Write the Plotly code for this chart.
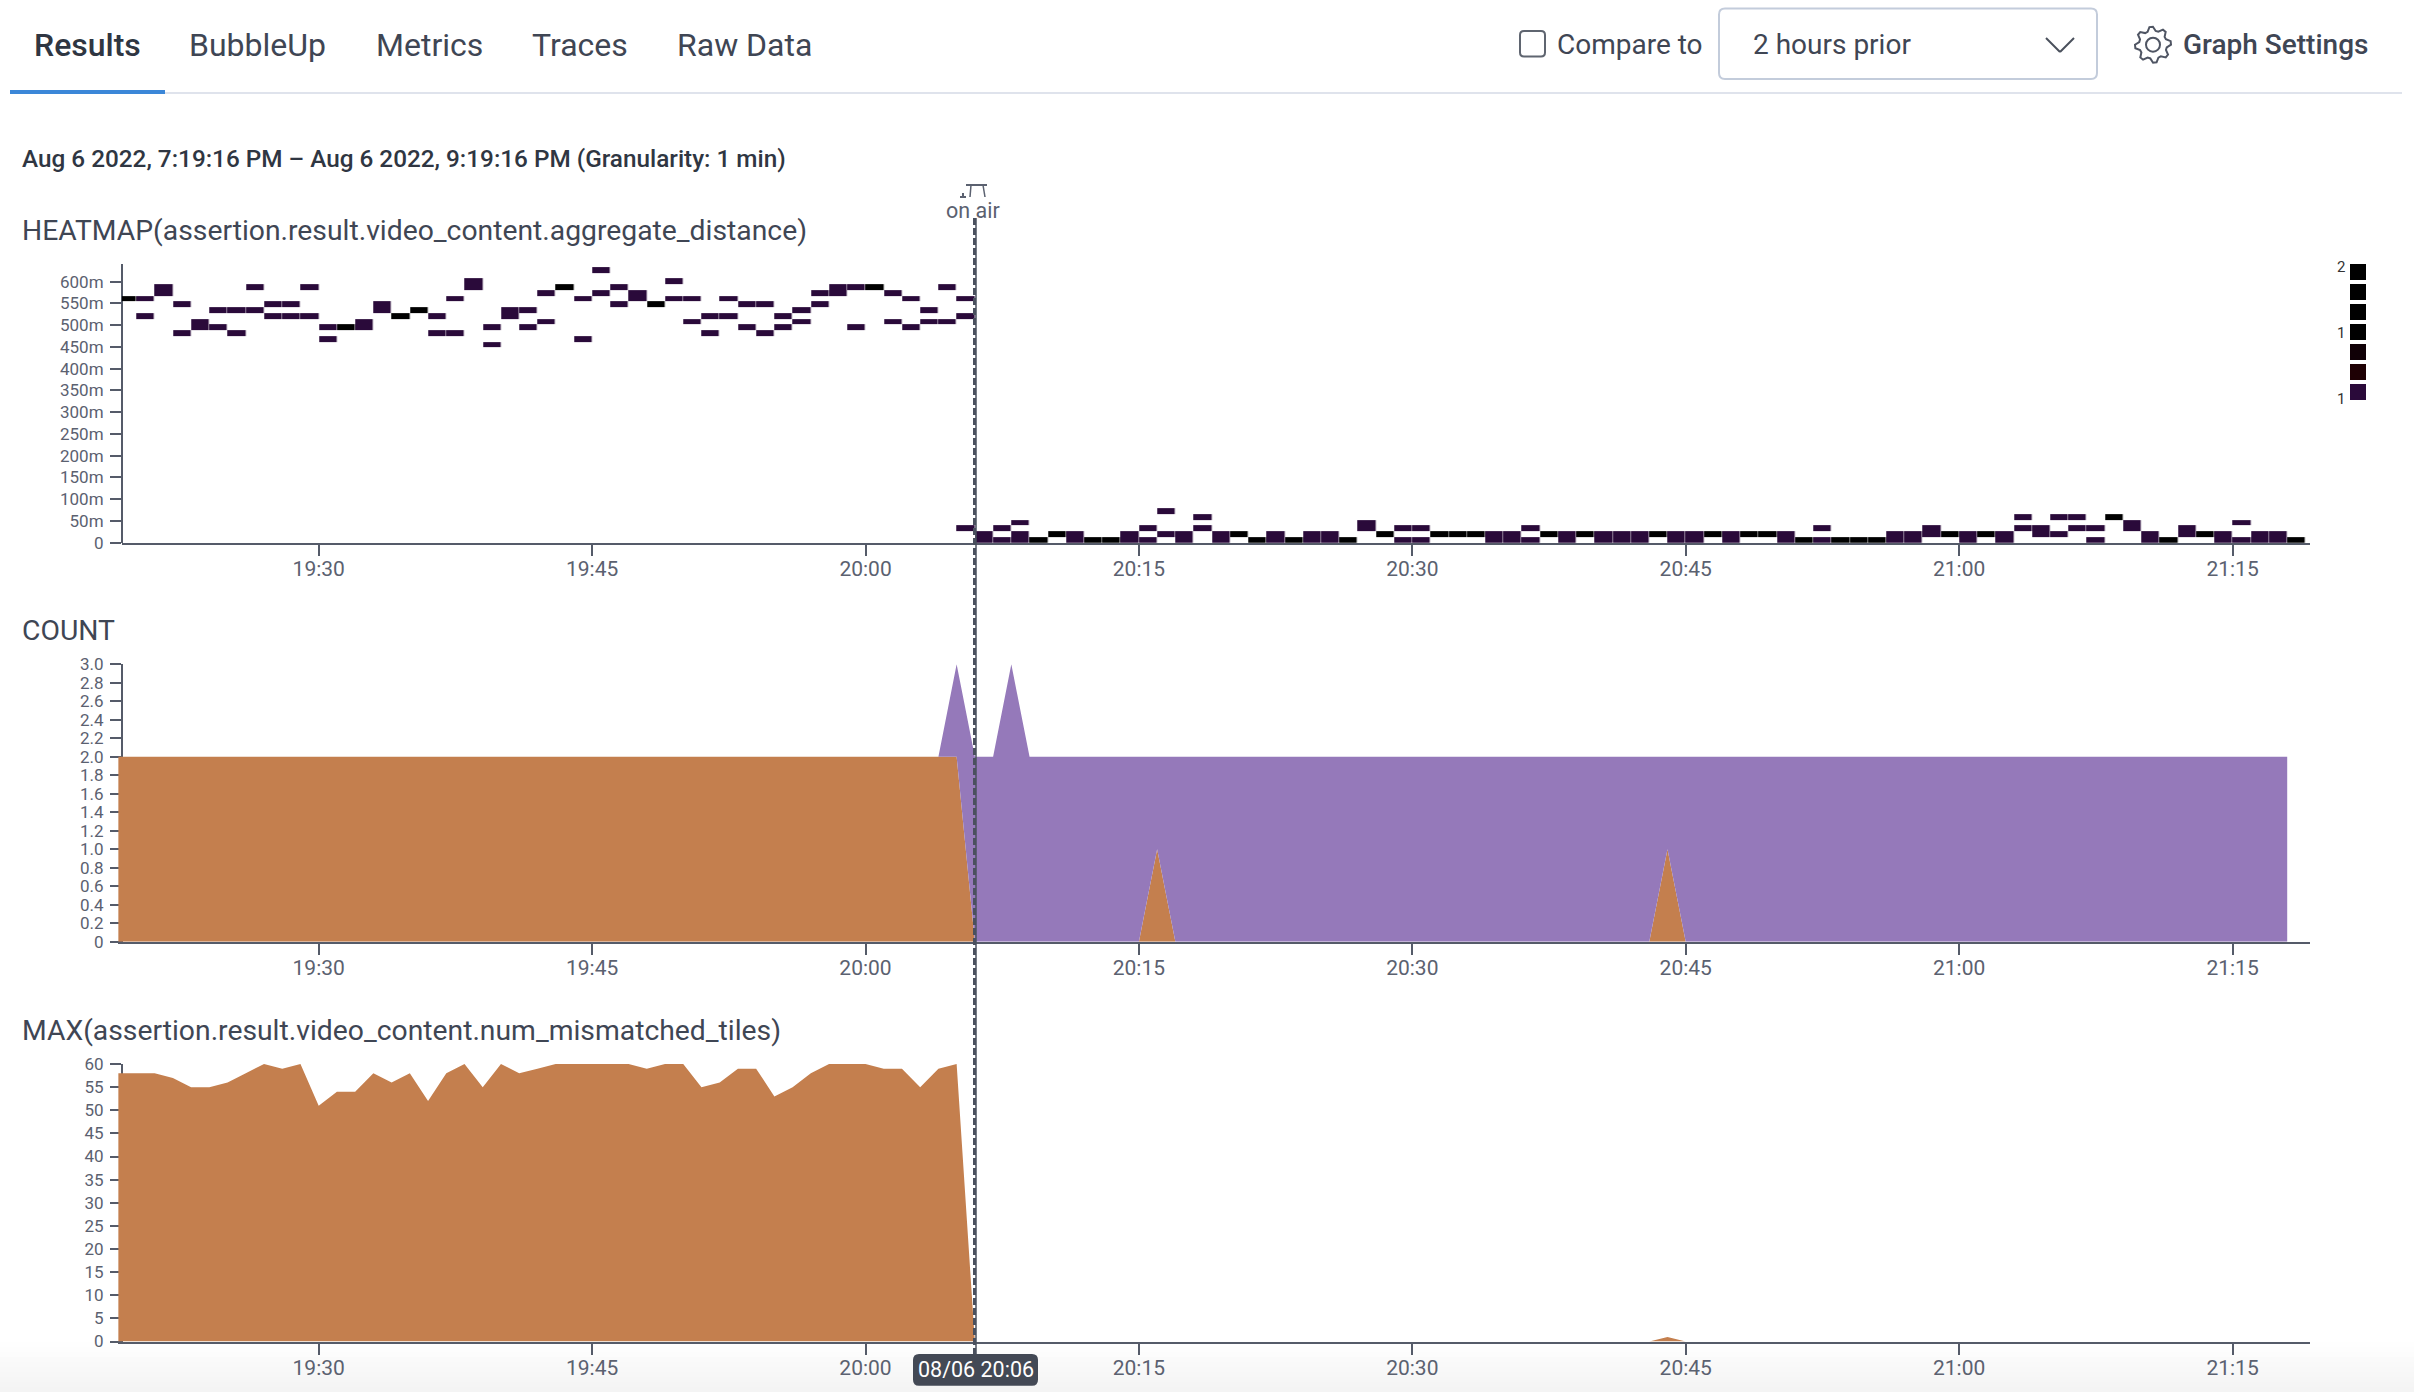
"""Honeycomb-style results page: heatmap, stacked count and max panels sharing one time axis."""
import math

import pandas as pd
import plotly.graph_objects as go

W, H = 2414, 1392
FONT = "Roboto"
INK = "#3f4654"
AXIS = "#555b69"
TICK_TEXT = "#5b6170"
ORANGE = "#c47f4e"
PURPLE = "#9579ba"
CELL_ONE = "#2a0a3a"
CELL_TWO = "#000000"

# one point per minute, 19:19 to 21:18
MINUTES = pd.date_range("2022-08-06 19:19", periods=120, freq="min")
CELL_EDGES = pd.date_range("2022-08-06 19:19", periods=121, freq="min")
TIME_TICKS = ["2022-08-06 19:30", "2022-08-06 19:45", "2022-08-06 20:00",
              "2022-08-06 20:15", "2022-08-06 20:30", "2022-08-06 20:45",
              "2022-08-06 21:00", "2022-08-06 21:15"]
TIME_LABELS = ["19:30", "19:45", "20:00", "20:15", "20:30", "20:45", "21:00", "21:15"]

# filled heatmap buckets per minute; a lone bucket holds both events (darkest colour)
BUCKET_SIZE = 13.2
HEAT_BUCKETS = [
    [42], [42, 39], [44, 43], [41, 36], [38, 37], [40, 37], [40, 36], [44, 40], [41, 39], [41, 39],
    [44, 39], [37, 35], [37], [38, 37], [41, 40], [39], [40], [39, 36], [42, 36], [45, 44],
    [37, 34], [40, 39], [40, 37], [43, 38], [44], [42, 35], [47, 43], [44, 41], [43, 42], [41],
    [45, 42], [42, 38], [39, 36], [42, 39], [41, 37], [41, 36], [39, 37], [40, 38], [43, 41], [44, 43],
    [44, 37], [44], [43, 38], [42, 37], [40, 38], [44, 38], [42, 39, 2], [1, 0], [2, 0], [3, 1, 0],
    [0], [1], [1, 0], [0], [0], [1, 0], [2, 0], [5, 1], [1, 0], [4, 2],
    [1, 0], [1], [0], [1, 0], [0], [1, 0], [1, 0], [0], [3, 2], [1],
    [2, 0], [2, 0], [1], [1], [1], [1, 0], [1, 0], [2, 0], [1], [1, 0],
    [1], [1, 0], [1, 0], [1, 0], [1], [1, 0], [1, 0], [1], [1, 0], [1],
    [1], [1, 0], [0], [2, 0], [0], [0], [0], [1, 0], [1, 0], [2, 1],
    [1], [1, 0], [1], [1, 0], [4, 2], [2, 1], [4, 1], [4, 2], [2, 0], [4],
    [3, 2], [1, 0], [0], [2, 1], [1], [1, 0], [3, 0], [1, 0], [1, 0], [0],
]
HEAT_TICKS = [0, 50, 100, 150, 200, 250, 300, 350, 400, 450, 500, 550, 600]
HEAT_LABELS = ["0", "50m", "100m", "150m", "200m", "250m", "300m", "350m", "400m",
               "450m", "500m", "550m", "600m"]

COUNT_ORANGE = [
    2, 2, 2, 2, 2, 2, 2, 2, 2, 2, 2, 2, 2, 2, 2, 2, 2, 2, 2, 2,
    2, 2, 2, 2, 2, 2, 2, 2, 2, 2, 2, 2, 2, 2, 2, 2, 2, 2, 2, 2,
    2, 2, 2, 2, 2, 2, 2, 0, 0, 0, 0, 0, 0, 0, 0, 0, 0, 1, 0, 0,
    0, 0, 0, 0, 0, 0, 0, 0, 0, 0, 0, 0, 0, 0, 0, 0, 0, 0, 0, 0,
    0, 0, 0, 0, 0, 1, 0, 0, 0, 0, 0, 0, 0, 0, 0, 0, 0, 0, 0, 0,
    0, 0, 0, 0, 0, 0, 0, 0, 0, 0, 0, 0, 0, 0, 0, 0, 0, 0, 0, 0,
]
COUNT_PURPLE = [
    0, 0, 0, 0, 0, 0, 0, 0, 0, 0, 0, 0, 0, 0, 0, 0, 0, 0, 0, 0,
    0, 0, 0, 0, 0, 0, 0, 0, 0, 0, 0, 0, 0, 0, 0, 0, 0, 0, 0, 0,
    0, 0, 0, 0, 0, 0, 1, 2, 2, 3, 2, 2, 2, 2, 2, 2, 2, 1, 2, 2,
    2, 2, 2, 2, 2, 2, 2, 2, 2, 2, 2, 2, 2, 2, 2, 2, 2, 2, 2, 2,
    2, 2, 2, 2, 2, 1, 2, 2, 2, 2, 2, 2, 2, 2, 2, 2, 2, 2, 2, 2,
    2, 2, 2, 2, 2, 2, 2, 2, 2, 2, 2, 2, 2, 2, 2, 2, 2, 2, 2, 2,
]
COUNT_TICKS = [0, 0.2, 0.4, 0.6, 0.8, 1.0, 1.2, 1.4, 1.6, 1.8, 2.0, 2.2, 2.4, 2.6, 2.8, 3.0]
COUNT_LABELS = ["0", "0.2", "0.4", "0.6", "0.8", "1.0", "1.2", "1.4", "1.6", "1.8",
                "2.0", "2.2", "2.4", "2.6", "2.8", "3.0"]

MAX_TILES = [
    58, 58, 58, 57, 55, 55, 56, 58, 60, 59, 60, 51, 54, 54, 58, 56, 58, 52, 58, 60,
    55, 60, 58, 59, 60, 60, 60, 60, 60, 59, 60, 60, 55, 56, 59, 59, 53, 55, 58, 60,
    60, 60, 59, 59, 55, 59, 60, 0, 0, 0, 0, 0, 0, 0, 0, 0, 0, 0, 0, 0,
    0, 0, 0, 0, 0, 0, 0, 0, 0, 0, 0, 0, 0, 0, 0, 0, 0, 0, 0, 0,
    0, 0, 0, 0, 0, 1, 0, 0, 0, 0, 0, 0, 0, 0, 0, 0, 0, 0, 0, 0,
    0, 0, 0, 0, 0, 0, 0, 0, 0, 0, 0, 0, 0, 0, 0, 0, 0, 0, 0, 0,
]
MAX_TICKS = [0, 5, 10, 15, 20, 25, 30, 35, 40, 45, 50, 55, 60]

LEGEND_COLOURS = ["#000000", "#000000", "#000000", "#000000", "#100006", "#1e0004", "#2a0a3a"]


def px(x):
    return x / W


def py(y):
    return 1 - y / H


def rect(x0, y0, x1, y1, **kw):
    return dict(type="rect", xref="paper", yref="paper", x0=px(x0), x1=px(x1), y0=py(y0), y1=py(y1), **kw)


def seg(x0, y0, x1, y1, color, width=2, dash="solid"):
    return dict(type="line", xref="paper", yref="paper", x0=px(x0), x1=px(x1), y0=py(y0), y1=py(y1),
                line=dict(color=color, width=width, dash=dash))


def rounded(x0, y0, x1, y1, r, **kw):
    xa, xb, ya, yb = px(x0), px(x1), py(y0), py(y1)
    rx, ry = r / W, r / H
    path = (f"M {xa + rx} {ya} L {xb - rx} {ya} Q {xb} {ya} {xb} {ya - ry} L {xb} {yb + ry} "
            f"Q {xb} {yb} {xb - rx} {yb} L {xa + rx} {yb} Q {xa} {yb} {xa} {yb + ry} "
            f"L {xa} {ya - ry} Q {xa} {ya} {xa + rx} {ya} Z")
    return dict(type="path", xref="paper", yref="paper", path=path, **kw)


def gear(cx, cy, outer, inner, teeth=8):
    pts = []
    for i in range(teeth * 4):
        a = 2 * math.pi * i / (teeth * 4) - 0.2
        r = outer if i % 4 in (0, 1) else inner
        pts.append(f"{px(cx + r * math.cos(a))} {py(cy + r * math.sin(a))}")
    return "M " + " L ".join(pts) + " Z"


def label(x, y, text, size=21, color=INK, anchor="left", weight=400):
    fig.add_annotation(xref="paper", yref="paper", x=px(x), y=py(y), text=text, showarrow=False,
                       xanchor=anchor, yanchor="middle", borderpad=0,
                       font=dict(family=FONT, size=size, color=color, weight=weight))


def axis_pair(n, x_start, left, top, bottom, y_range, y_ticks, y_labels):
    x_key = "xaxis" if n == 1 else f"xaxis{n}"
    y_key = "yaxis" if n == 1 else f"yaxis{n}"
    suffix = "" if n == 1 else str(n)
    fig.update_layout({
        x_key: dict(type="date", domain=[px(left), px(2310.3)], range=[x_start, "2022-08-06 21:19:16"],
                    anchor="y" + suffix, tickmode="array", tickvals=TIME_TICKS, ticktext=TIME_LABELS,
                    showgrid=False, zeroline=False, showline=True, linecolor=AXIS, linewidth=2,
                    ticks="outside", ticklen=11, tickwidth=2, tickcolor=AXIS, automargin=False,
                    ticklabelstandoff=-5, tickfont=dict(family=FONT, size=21, color=TICK_TEXT)),
        y_key: dict(domain=[py(bottom), py(top)], range=y_range, anchor="free",
                    position=px(122), tickmode="array", tickvals=y_ticks, ticktext=y_labels,
                    showgrid=False, zeroline=False, showline=True, linecolor=AXIS, linewidth=2,
                    ticks="outside", ticklen=11, tickwidth=2, tickcolor=AXIS, layer="below traces",
                    automargin=False, ticklabelstandoff=3,
                    tickfont=dict(family=FONT, size=17, color=TICK_TEXT)),
    })


fig = go.Figure()

# heatmap panel
n_rows = max(max(col) for col in HEAT_BUCKETS) + 1
bucket_edges = [i * BUCKET_SIZE for i in range(n_rows + 1)]
z = [[None] * len(MINUTES) for _ in range(n_rows)]
for i, col in enumerate(HEAT_BUCKETS):
    for row in col:
        z[row][i] = 2 if len(col) == 1 else 1
fig.add_trace(go.Heatmap(x=CELL_EDGES, y=bucket_edges, z=z, zmin=1, zmax=2, showscale=False,
                         colorscale=[[0, CELL_ONE], [1, CELL_TWO]], xgap=0.5, ygap=0, hoverinfo="skip",
                         xaxis="x", yaxis="y"))

# count panel, stacked
fig.add_trace(go.Scatter(x=MINUTES, y=COUNT_ORANGE, stackgroup="count", mode="lines", fillcolor=ORANGE,
                         line=dict(width=0, color=ORANGE), hoverinfo="skip", xaxis="x2", yaxis="y2"))
fig.add_trace(go.Scatter(x=MINUTES, y=COUNT_PURPLE, stackgroup="count", mode="lines", fillcolor=PURPLE,
                         line=dict(width=0, color=PURPLE), hoverinfo="skip", xaxis="x2", yaxis="y2"))

# max panel
fig.add_trace(go.Scatter(x=MINUTES, y=MAX_TILES, fill="tozeroy", mode="lines", fillcolor=ORANGE,
                         line=dict(width=0, color=ORANGE), hoverinfo="skip", xaxis="x3", yaxis="y3"))

axis_pair(1, "2022-08-06 19:19:12", 121.9, 264, 542.7, [0, 640.7], HEAT_TICKS, HEAT_LABELS)
axis_pair(2, "2022-08-06 19:19:00", 118.2, 664.3, 941.7, [0, 3], COUNT_TICKS, COUNT_LABELS)
axis_pair(3, "2022-08-06 19:19:00", 118.2, 1064, 1341.5, [0, 60], MAX_TICKS, [str(v) for v in MAX_TICKS])

shapes = []

# page fade at the bottom
for i in range(10):
    shapes.append(rect(0, 1342 + i * 5, W, 1347 + i * 5, fillcolor=f"rgba(0,0,0,{0.0045 * (i + 1):.4f})",
                       line_width=0, layer="below"))

# tab bar
shapes.append(rect(165, 92, 2402, 94, fillcolor="#dfe3ec", line_width=0))
shapes.append(rect(10, 90, 165, 94, fillcolor="#3b87d8", line_width=0))
shapes.append(rounded(1520, 31, 1545, 56.5, 4, fillcolor="white", line=dict(color="#5f6570", width=2)))
shapes.append(rounded(1719, 8.5, 2097, 79, 6, fillcolor="white", line=dict(color="#c3ccdb", width=2)))
shapes.append(seg(2046, 38, 2060, 52, "#4a505c", 2))
shapes.append(seg(2060, 52, 2074, 38, "#4a505c", 2))
shapes.append(dict(type="path", xref="paper", yref="paper", path=gear(2153, 44.7, 18, 14),
                   line=dict(color="#4f5563", width=2)))
shapes.append(dict(type="circle", xref="paper", yref="paper", x0=px(2146), x1=px(2160), y0=py(51.7), y1=py(37.7),
                   line=dict(color="#4f5563", width=2)))

# on air marker
shapes.append(seg(974.5, 218, 974.5, 1354, "#4a505e", 3, "7px,3px"))
shapes.append(seg(976, 218, 976, 1354, "#4a505e", 1.5))
shapes.append(seg(966, 185, 987, 185, TICK_TEXT, 2))
shapes.append(seg(971, 185, 970, 197, TICK_TEXT, 1.5))
shapes.append(seg(983, 185, 985, 197, TICK_TEXT, 1.5))
shapes.append(seg(960, 197, 966, 197, TICK_TEXT, 2))
shapes.append(seg(963, 193, 963, 197, TICK_TEXT, 2))

# crosshair time tag
shapes.append(rounded(913, 1354, 1038, 1385.7, 6, fillcolor="#434955", line_width=0))

# heatmap colour legend
for i, colour in enumerate(LEGEND_COLOURS):
    shapes.append(rect(2350, 264 + i * 20, 2366, 280 + i * 20, fillcolor=colour, line_width=0))

fig.update_layout(shapes=shapes)

label(33, 45, "Results", size=32, color="#2f3642", weight=500)
label(187.5, 45, "BubbleUp", size=32)
label(374.5, 45, "Metrics", size=32)
label(530.5, 45, "Traces", size=32)
label(675.5, 45, "Raw Data", size=32)
label(1556, 44, "Compare to", size=28)
label(1752, 44, "2 hours prior", size=28)
label(2182, 44, "Graph Settings", size=28, weight=500)
label(21, 158, "Aug 6 2022, 7:19:16 PM – Aug 6 2022, 9:19:16 PM (Granularity: 1 min)", size=24.3, color="#2f3642", weight=500)
label(21, 231, "HEATMAP(assertion.result.video_content.aggregate_distance)", size=28.3)
label(21, 630, "COUNT", size=28.3)
label(21, 1030, "MAX(assertion.result.video_content.num_mismatched_tiles)", size=28.3)
label(973.5, 210.5, "on air", size=21.5, color=TICK_TEXT, anchor="center")
label(975.5, 1369, "08/06 20:06", size=21.5, color="white", anchor="center")
label(2341, 266.7, "2", size=15, color="#333333", anchor="center")
label(2341, 332.7, "1", size=15, color="#333333", anchor="center")
label(2341, 398.7, "1", size=15, color="#333333", anchor="center")

fig.update_layout(width=W, height=H, margin=dict(l=0, r=0, t=0, b=0, autoexpand=False), showlegend=False,
                  paper_bgcolor="white", plot_bgcolor="rgba(0,0,0,0)", hovermode=False,
                  font=dict(family=FONT))

fig.write_html("out.html", config=dict(displayModeBar=False), post_script="document.body.style.margin='0';")
